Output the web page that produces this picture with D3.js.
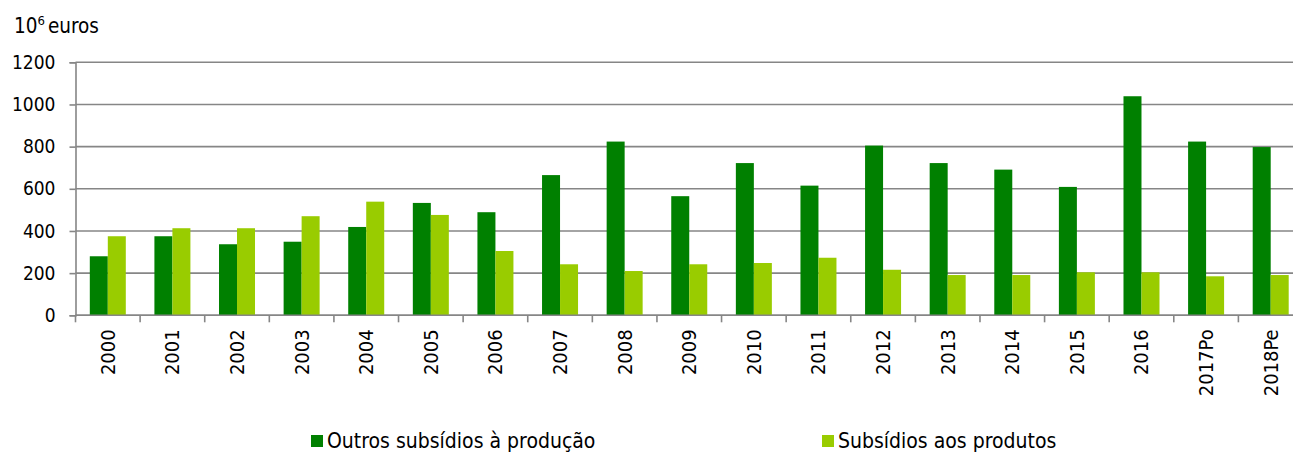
<!DOCTYPE html>
<html>
<head>
<meta charset="utf-8">
<script src="https://cdn.jsdelivr.net/npm/d3@7"></script>
<style>
html,body{margin:0;padding:0;background:#fff;overflow:hidden;}
svg{display:block;font-family:"DejaVu Sans Condensed","DejaVu Sans",sans-serif;}
</style>
</head>
<body>
<svg id="chart" width="1293" height="453"></svg>
<script>
const categories = ["2000","2001","2002","2003","2004","2005","2006","2007","2008","2009","2010","2011","2012","2013","2014","2015","2016","2017Po","2018Pe"];
const outrosSubsidios = [280,375,337,349,419,533,489,665,824,565,722,615,805,722,691,609,1039,824,798];
const subsidiosProdutos = [375,413,413,470,539,476,305,242,210,242,248,273,216,191,191,204,204,185,191];
const seriesNames = ["Outros subsídios à produção","Subsídios aos produtos"];
const yTicks = [0,200,400,600,800,1000,1200];

const colors = ["#008000","#99CC00"];
const FONT = "'DejaVu Sans Condensed','DejaVu Sans',sans-serif";
const svg = d3.select("#chart");
const x0 = 75.5, x1 = 1303, yTop = 62.3, yBot = 315.3;

const x = d3.scaleBand().domain(categories).range([x0, x1]).paddingInner(0).paddingOuter(0);
const y = d3.scaleLinear().domain([0,1200]).range([yBot, yTop]);
const groupW = 36;
const xs = d3.scaleBand().domain([0,1]).range([0, groupW]).padding(0);

// gridlines
svg.append("g").selectAll("line").data(yTicks).join("line")
  .attr("x1", x0).attr("x2", 1293)
  .attr("y1", d => y(d)).attr("y2", d => y(d))
  .attr("stroke", "#868686").attr("stroke-width", 1.6);

// y axis
const yAxis = svg.append("g").attr("transform", `translate(${x0},0)`)
  .call(d3.axisLeft(y).tickValues(yTicks).tickSize(6).tickPadding(14).tickFormat(d3.format("d")));
yAxis.select(".domain").attr("stroke", "#868686").attr("stroke-width", 1.6);
yAxis.selectAll(".tick line").attr("stroke", "#868686").attr("stroke-width", 1.6);
yAxis.selectAll(".tick text").attr("font-size", 19).attr("fill", "#000")
  .attr("font-family", FONT);

// bars
const data = categories.map((c,i) => ({c, vals:[outrosSubsidios[i], subsidiosProdutos[i]]}));
const groups = svg.append("g").selectAll("g").data(data).join("g")
  .attr("transform", d => `translate(${x(d.c) + (x.bandwidth()-groupW)/2},0)`);
groups.selectAll("rect").data(d => d.vals.map((v,k) => ({v,k}))).join("rect")
  .attr("x", d => xs(d.k)).attr("width", xs.bandwidth())
  .attr("y", d => y(d.v)).attr("height", d => y(0) - y(d.v))
  .attr("fill", d => colors[d.k]);

// x axis
const xAxis = svg.append("g").attr("transform", `translate(0,${yBot})`)
  .call(d3.axisBottom(x).tickSize(0).tickFormat(d => d));
xAxis.select(".domain").remove();
svg.append("line").attr("x1", x0).attr("x2", 1293).attr("y1", yBot).attr("y2", yBot)
  .attr("stroke", "#868686").attr("stroke-width", 1.6);
// category separator ticks
svg.append("g").selectAll("line").data(categories.concat(["__end"])).join("line")
  .attr("x1", (d,i) => x0 + i*x.step()).attr("x2", (d,i) => x0 + i*x.step())
  .attr("y1", yBot).attr("y2", yBot + 7)
  .attr("stroke", "#868686").attr("stroke-width", 1.6);
xAxis.selectAll(".tick text")
  .attr("font-size", 20).attr("fill", "#000")
  .attr("font-family", FONT)
  .attr("text-anchor", "end")
  .attr("transform", "rotate(-90)")
  .attr("x", -14).attr("y", 0).attr("dy", "0.35em");

// y axis title
const t = svg.append("text").attr("x", 14).attr("y", 33).attr("font-size", 20.5).attr("fill", "#000");
t.append("tspan").text("10");
t.append("tspan").attr("font-size", 13).attr("dy", -8).text("6");
t.append("tspan").attr("dy", 8).attr("dx", 3).text("euros");

// legend
const legX = [311, 822];
const leg = svg.append("g").selectAll("g").data(seriesNames).join("g")
  .attr("transform", (d,i) => `translate(${legX[i]},435)`);
leg.append("rect").attr("width", 12).attr("height", 12).attr("fill", (d,i) => colors[i]);
leg.append("text").attr("x", 16).attr("y", 12.5).attr("font-size", 21).attr("fill", "#000").text(d => d);
</script>
</body>
</html>
